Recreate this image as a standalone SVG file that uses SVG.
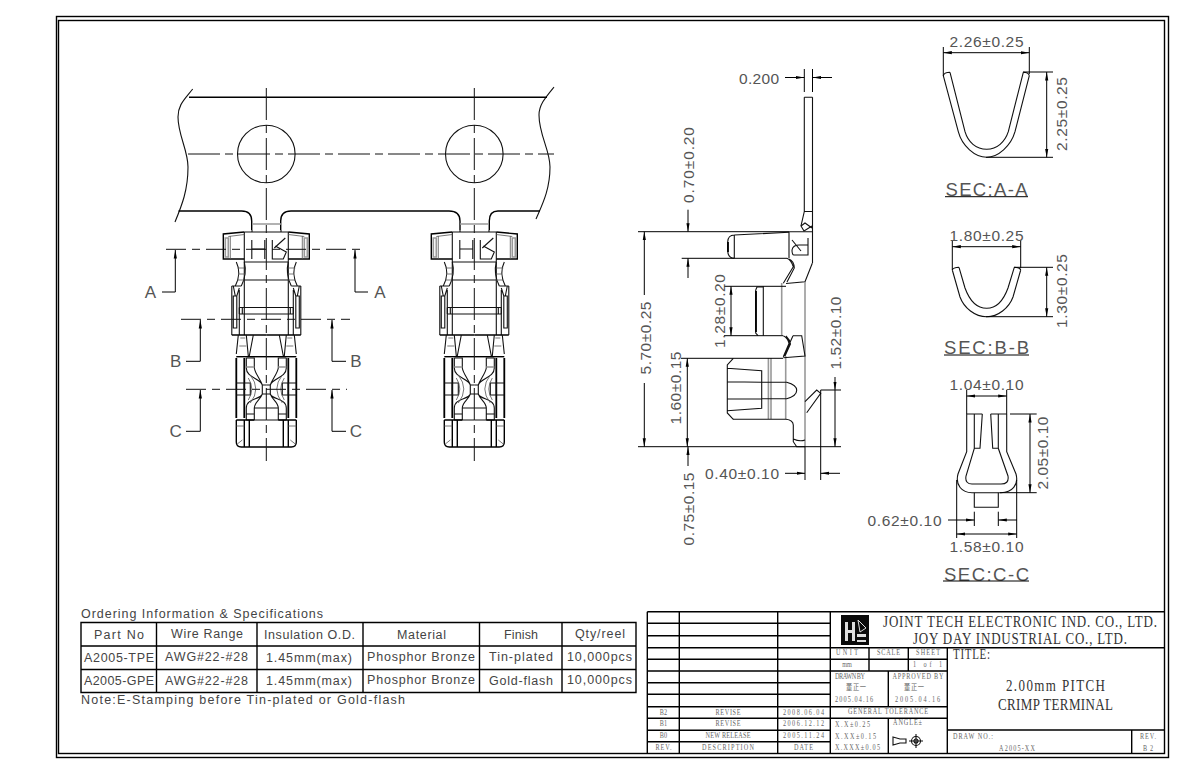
<svg xmlns="http://www.w3.org/2000/svg" xmlns:xlink="http://www.w3.org/1999/xlink" width="1191" height="767" viewBox="0 0 1191 767">
<style>
.l{fill:none;stroke:#111;stroke-width:1.1}
.b{fill:none;stroke:#000;stroke-width:1.4}
.k{fill:none;stroke:#000;stroke-width:1.8}
.g{fill:none;stroke:#999;stroke-width:1.6}
.m{fill:none;stroke:#555;stroke-width:.8}
.c{fill:none;stroke:#111;stroke-width:1;stroke-dasharray:32 5 8 5}
.s{fill:none;stroke:#111;stroke-width:1;stroke-dasharray:20 6 8 6}
.d{fill:none;stroke:#000;stroke-width:1}
text{font-family:"Liberation Sans",Arial,sans-serif;fill:#555;dominant-baseline:central}
.t{font-size:15.500px;text-anchor:middle}
.h{font-size:18.500px;text-anchor:middle}
.a{font-size:17px;text-anchor:middle}
.o{font-size:12.500px;text-anchor:middle;fill:#444}
.n{font-family:"Liberation Serif","Noto Sans CJK SC",serif;text-anchor:middle;font-size:6.200px;fill:#666;transform-box:fill-box;transform-origin:center;transform:scaleY(1.3)}
.f{font-family:"Liberation Serif","Noto Sans CJK SC",serif;text-anchor:middle;font-size:13px;fill:#333;transform-box:fill-box;transform-origin:center;transform:scaleY(1.3)}
</style>
<defs>
<marker id="ar" markerUnits="userSpaceOnUse" markerWidth="9" markerHeight="5" refX="8.5" refY="2.5" orient="auto-start-reverse"><path d="M0,.9 L8.5,2.5 L0,4.1Z" fill="#000"/></marker>
<g id="half">
<path class="l" d="M-22,232 V335 M-22,232 H0 M-22,262 H0 M-22,280 H0"/>
<path class="b" d="M-22,232 L-43,234 V259 H-22"/>
<path class="m" d="M-22,234.500 L-38,236.500 M-36,236 V259"/>
<path class="g" d="M-41,238 H-38 V257 H-41Z"/>
<path class="l" d="M-30,262 C-26,270 -27,278 -31,286 M-22,262 C-20,270 -21,278 -25,286"/>
<path class="m" d="M-29,268 H-22 M-28,274 H-21 M-29,280 H-22"/>
<path class="l" d="M-34.500,286 H-25 M-34.500,286 V335 M-27,290 V335 M-33,296 V328 H-29.500 V296Z M-33,286 L-31,296 L-29.500,296 L-27,288"/>
<path class="l" d="M-27,307.500 H0 M-27,314 H0 M-27,307.500 V314 M-24,307.500 V314"/>
<path class="b" d="M-34.500,335 H0"/>
<path class="l" d="M-28,335 L-30,354 M-20,335 L-18,356 M-13,335 L-17,356"/>
<path class="m" d="M-26,338 L-21,338 M-27,346 L-20,346"/>
<path class="b" d="M-30,356.700 H0"/>
<path class="k" d="M-30,358 V418 M-22,358 V418"/>
<path class="l" d="M-30,383 H-16 V395 H-30 M-22,383 V395"/>
<path class="l" d="M-20,358 H-12 V368 M-20,358 V368 C-20,378 -6,378 -4,385 V394 C-6,400 -20,398 -20,408 V420 M-12,368 C-11,374 -6,379 -4,385 M-4,394 C-6,400 -12,402 -12,408"/>
<path class="g" d="M-20,367 H-12"/>
<path class="m" d="M-16,375 Q-5,389 -16,403 M-18,378 Q-11,389 -18,400"/>
<path class="l" d="M-4,385 H0 M-4,394 H0"/>
<path class="l" d="M-12,408 H0 M-12,420 H0 M-12,408 V420 M-20,414 H-12 M-20,420 H-12"/>
<path class="b" d="M-30,420 V442 Q-30,447 -25,447 H0 M-22,420 V447 M-17,420 V447 M-30,420 H-12"/>
<path class="m" d="M-30,426 H-22 M-29,444 L-24,440"/>
</g>
<g id="terminal">
<use xlink:href="#half" href="#half"/>
<use xlink:href="#half" href="#half" transform="scale(-1,1)"/>
<path class="l" d="M-14.500,240 V259 M-1.500,240 V259 M-14.500,249 H-1.500"/>
<path class="l" d="M6,240 V259 H17 L20,252 L9,246 M8,248 L19,238"/>
</g>
</defs>

<g id="frame">
<rect class="b" x="56.500" y="16.500" width="1112" height="741"/>
<rect class="b" x="58.500" y="20.500" width="1106" height="733"/>
</g>

<g id="strip">
<path class="l" d="M192.700,89 C184,100 178,105 178,117 C178,135 188,150 188,167 C188,190 182,205 175,222 M554,87 C545,98 539,105 539,115 C539,135 550,150 550,167 C550,190 542,205 536,219"/>
<path class="b" d="M189,97.300 H547"/>
<path class="b" d="M178.500,211 H241.700 Q251.700,211 251.700,221 V230 M280.700,230 V221 Q280.700,211 291,211 H449 Q460,211 460,221 V230 M489.300,230 V221 Q489.300,211 498,211 H540"/>
<path class="g" d="M252,224 H281 M460,224 H489"/>
<path class="l" d="M252,230 V232 M281,230 V232 M460,230 V232 M489,230 V232"/>
<circle class="l" cx="266.300" cy="154" r="28.800"/>
<circle class="l" cx="474.300" cy="154" r="28.800"/>
<path class="c" d="M188,154 H554"/>
</g>

<g id="terminal-1" transform="translate(266.300,0)"><use xlink:href="#terminal" href="#terminal"/></g>
<g id="terminal-2" transform="translate(474.300,0)"><use xlink:href="#terminal" href="#terminal"/></g>

<g id="centerlines">
<path class="c" d="M266.300,88 V461 M474.300,88 V461"/>
<path class="s" d="M166,249.300 H364 M181,319.300 H350 M186,389.300 H347"/>
</g>

<g id="section-arrows">
<path class="d" marker-end="url(#ar)" d="M162,292 H175.300 V250"/>
<path class="d" marker-end="url(#ar)" d="M368,292 H355 V250"/>
<path class="d" marker-end="url(#ar)" d="M186,361.300 H200.300 V320"/>
<path class="d" marker-end="url(#ar)" d="M346,361.300 H332 V320"/>
<path class="d" marker-end="url(#ar)" d="M186,431.300 H200.300 V390"/>
<path class="d" marker-end="url(#ar)" d="M346,431.300 H332 V390"/>
<text class="a" x="150.500" y="292">A</text><text class="a" x="380" y="292">A</text>
<text class="a" x="175.700" y="361">B</text><text class="a" x="356" y="361">B</text>
<text class="a" x="175.700" y="431">C</text><text class="a" x="356" y="431">C</text>
</g>

<g id="side-view">
<path class="l" d="M804.300,97.300 H812.500 M804.300,97.300 V211.500 M812.500,97.300 V263.300 M804.300,211.500 H812.500 M804.300,211.500 L801,226 L804,231 L812,226"/>
<path class="l" d="M801,226 L805,223 L812,228"/>
<path class="l" d="M734.300,235 L789,232.300 M727.700,242 Q728,235 734.300,235 M727.700,242 V251 Q728,258 734.300,258.300 M734.300,235 V258.300"/>
<path class="k" d="M728,242 V252"/>
<path class="l" d="M789,231.700 H812 M789,232 V258"/>
<path class="l" d="M792,240 L801,251 M808,238 V255 H794 Q792,255 792,250 Q793,245 799,245 H808"/>
<path class="l" d="M787,258.300 Q791,260 793.300,266.700 L783.300,283.300 M789,259 Q794,261 794.300,268 L787,282 M786,283.500 L805,281.700 L812.300,263.300"/>
<path class="l" d="M755.700,290 L757,287 H763.300 M755.700,290 V333 L758,335.700 M763.300,286.300 V335.700"/>
<path class="k" d="M756,291 V332"/>
<path class="g" d="M781.700,283 V335 M805,282 V446.700 M768.400,358 V419 M771,358 V419 M785.700,356 V419"/>
<path class="l" d="M783.300,335.700 Q788,338 789,343.500 L783.300,356.700 M786,336 Q790,340 790.500,344 L785,356 M793,335.700 L801.700,335.700 L805,356 L783.300,357.700 M793,335.700 L783.500,357"/>
<path class="l" d="M733.300,358.300 L727.300,365 V413 L733.300,419.300 M727.300,368.300 L761.700,370.700 V408.300 L727.300,410.700 M727.300,381.700 L761.700,382.300 M727.300,399 L761.700,399 M762,382.300 H786.700 Q796.700,385 796.700,390.300 Q796.700,396 786.700,398.700 H762"/>
<path class="l" d="M805,401.700 L816.700,390 L820.700,393.300 L806.700,412.700"/>
<path class="l" d="M733,419.300 H786 M793.300,425 Q793,420 786,419.300 M793.300,425 V441.700 L796.700,446.700 H805 M793.300,439 Q800,442 805,440"/>
</g>

<g id="sec-a">
<path class="l" d="M943.300,75.700 L958.300,131.700 C962,146 975,157.300 986.700,157.300 C998,157.300 1011,146 1015,131.700 L1029.300,75.700 M950,72.300 L965,131.700 C968,142 976,149.300 986.700,149.300 C997,149.300 1005,142 1008.300,131.700 L1023.300,72.300 M943.300,75.700 Q944,72.500 950,72.300 M1029.300,75.700 Q1028.500,72.500 1023.300,72.300"/>
</g>
<g id="sec-b">
<path class="l" d="M952.300,270 L960,297 C964,308 975,316.700 986.700,316.700 C998,316.700 1009,308 1013,297 L1020.700,270 M959,267.300 L965,288 C969,299 976,308.300 986.700,308.300 C997,308.300 1004,299 1008,288 L1014.300,267.300 M952.300,270 Q953,267.500 959,267.300 M1020.700,270 Q1020,267.500 1014.300,267.300"/>
</g>
<g id="sec-c">
<path class="l" d="M966.700,414 H982.300 M990.700,414 H1006.700 M966.700,414 V451.700 L958,474 C955,485 962,492.700 972,492.700 H1001 C1012,492.700 1019,485 1016,474 L1006.700,451.700 V414 M974.300,414 V448.300 L966,476 C965,482 968,484 972,484 H1001 C1006,484 1009,482 1008,476 L998.300,448.300 V414 M982.300,414 L980,448.300 H974.300 M990.700,414 L992.700,448.300 H998.300"/>
<path class="l" d="M974.300,492.700 V507.300 H998.300 V492.700"/>
</g>

<g id="dimensions">
<path class="d" d="M804.300,69 V92 M812.500,69 V92"/>
<path class="d" marker-end="url(#ar)" d="M785,77.500 H804.300"/>
<path class="d" marker-end="url(#ar)" d="M832,77.500 H812.500"/>
<text class="t" x="759" y="78" textLength="40">0.200</text>

<path class="d" d="M638,231.700 H789 M681.700,258.300 H787 M724,286.300 H786 M724,335.700 H783 M681,358.300 H783 M638,446.700 H841 M805,446.700 V480 M820.700,390 V480 M820.700,390 H841"/>
<path class="d" marker-end="url(#ar)" d="M688,209.700 V231.700"/>
<path class="d" marker-end="url(#ar)" d="M688,278 V258.300"/>
<text class="t" transform="translate(688,165) rotate(-90)" textLength="76">0.70±0.20</text>
<path class="d" marker-end="url(#ar)" d="M644.300,295 V231.700"/>
<path class="d" marker-end="url(#ar)" d="M644.300,383 V446.700"/>
<text class="t" transform="translate(645,338) rotate(-90)" textLength="73">5.70±0.25</text>
<path class="d" marker-start="url(#ar)" marker-end="url(#ar)" d="M731,286.300 V335.700"/>
<text class="t" transform="translate(719,311) rotate(-90)" textLength="74">1.28±0.20</text>
<path class="d" marker-start="url(#ar)" marker-end="url(#ar)" d="M687.300,358.300 V446.700"/>
<text class="t" transform="translate(675,388) rotate(-90)" textLength="73">1.60±0.15</text>
<path class="d" marker-end="url(#ar)" d="M688,466 V446.700"/>
<text class="t" transform="translate(688,509) rotate(-90)" textLength="73">0.75±0.15</text>
<path class="d" marker-end="url(#ar)" d="M835,377 V390"/>
<path class="d" marker-end="url(#ar)" d="M835,390 V446.700"/>
<text class="t" transform="translate(835,333) rotate(-90)" textLength="73">1.52±0.10</text>
<path class="d" marker-end="url(#ar)" d="M785,473.300 H805"/>
<path class="d" marker-end="url(#ar)" d="M840,473.300 H820.700"/>
<text class="t" x="742" y="473.500" textLength="74">0.40±0.10</text>

<path class="d" d="M943.300,47 V76 M1029.300,47 V74 M1023,72 H1053 M986,157.300 H1053"/>
<path class="d" marker-start="url(#ar)" marker-end="url(#ar)" d="M943.300,52.700 H1029.300"/>
<path class="d" marker-start="url(#ar)" marker-end="url(#ar)" d="M1046.700,72 V157.300"/>
<text class="t" x="986.500" y="41.700" textLength="74">2.26±0.25</text>
<text class="t" transform="translate(1061,114) rotate(-90)" textLength="74">2.25±0.25</text>
<text class="h" x="986.500" y="189" textLength="82">SEC:A-A</text>
<path class="d" d="M945,196.700 H1028"/>

<path class="d" d="M952.300,240 V270 M1020.700,240 V268 M1014,267.300 H1053 M986,316.700 H1053"/>
<path class="d" marker-start="url(#ar)" marker-end="url(#ar)" d="M952.300,246.700 H1020.700"/>
<path class="d" marker-start="url(#ar)" marker-end="url(#ar)" d="M1046.700,267.300 V316.700"/>
<text class="t" x="986.500" y="235" textLength="74">1.80±0.25</text>
<text class="t" transform="translate(1061,291) rotate(-90)" textLength="74">1.30±0.25</text>
<text class="h" x="986.500" y="347" textLength="85">SEC:B-B</text>
<path class="d" d="M944,355 H1029"/>

<path class="d" d="M966.700,390 V414 M1006.700,390 V414 M1010,414 H1036.700 M1000,492.700 H1036.700 M974.300,511.700 V526 M998.300,511.700 V526 M956.700,480 V538 M1016.700,480 V538"/>
<path class="d" marker-start="url(#ar)" marker-end="url(#ar)" d="M966.700,396 H1006.700"/>
<path class="d" marker-start="url(#ar)" marker-end="url(#ar)" d="M1030,414 V492.700"/>
<path class="d" marker-end="url(#ar)" d="M948,520 H974.300"/>
<path class="d" marker-end="url(#ar)" d="M1017,520 H998.300"/>
<path class="d" marker-start="url(#ar)" marker-end="url(#ar)" d="M956.700,534 H1016.700"/>
<text class="t" x="986.500" y="384" textLength="74">1.04±0.10</text>
<text class="t" transform="translate(1042,453) rotate(-90)" textLength="73">2.05±0.10</text>
<text class="t" x="904.500" y="520" textLength="74">0.62±0.10</text>
<text class="t" x="986.500" y="546.700" textLength="74">1.58±0.10</text>
<text class="h" x="986.500" y="574" textLength="85">SEC:C-C</text>
<path class="d" d="M943,581 H1029"/>
</g>

<g id="ordering-table">
<path class="b" d="M81,622.500 H636 V692.500 H81Z M81,646 H636 M81,669.500 H636 M156.500,622.500 V692.500 M257,622.500 V692.500 M363,622.500 V692.500 M479.500,622.500 V692.500 M562,622.500 V692.500"/>
<text class="o" x="202" y="613.500" textLength="242">Ordering Information &amp; Specifications</text>
<text class="o" x="119" y="634.500" textLength="50">Part No</text>
<text class="o" x="207" y="633.500" textLength="72">Wire Range</text>
<text class="o" x="309.500" y="634.500" textLength="91">Insulation O.D.</text>
<text class="o" x="421.500" y="634.500" textLength="49">Material</text>
<text class="o" x="521" y="634.500" textLength="34">Finish</text>
<text class="o" x="600" y="633.500" textLength="50">Qty/reel</text>
<text class="o" x="119" y="657.500" textLength="70">A2005-TPE</text>
<text class="o" x="206.500" y="657" textLength="83">AWG#22-#28</text>
<text class="o" x="309" y="657.500" textLength="86">1.45mm(max)</text>
<text class="o" x="421" y="657" textLength="108">Phosphor Bronze</text>
<text class="o" x="521" y="657" textLength="64">Tin-plated</text>
<text class="o" x="599.500" y="657" textLength="65">10,000pcs</text>
<text class="o" x="119" y="680.500" textLength="70">A2005-GPE</text>
<text class="o" x="206.500" y="680.500" textLength="83">AWG#22-#28</text>
<text class="o" x="309" y="680.500" textLength="86">1.45mm(max)</text>
<text class="o" x="421" y="680" textLength="108">Phosphor Bronze</text>
<text class="o" x="521" y="681" textLength="64">Gold-flash</text>
<text class="o" x="599.500" y="680" textLength="65">10,000pcs</text>
<text class="o" x="243" y="700" textLength="324">Note:E-Stamping before Tin-plated or Gold-flash</text>
</g>

<g id="title-block">
<path class="b" d="M647.300,611.700 H1164.300 M647.300,611.700 V753.300 M679.300,611.700 V753.300 M777.700,611.700 V753.300 M830.300,611.700 V753.300 M647.300,623.300 H830.300 M647.300,635.700 H830.300 M647.300,647.700 H1164.300 M647.300,659.300 H947.300 M647.300,671 H947.300 M647.300,682.700 H830.300 M647.300,694.300 H830.300 M647.300,706.700 H947.300 M647.300,718.300 H947.300 M647.300,730.300 H830.300 M647.300,741.700 H830.300 M947.300,647.700 V753.300 M947.300,730 H1164.300 M1131.700,730 V753.300 M869,647.700 V671 M908.300,647.700 V671 M888.300,671 V706.700 M888.300,718.300 V753.300"/>
<g id="logo"><rect x="841" y="615" width="28" height="30" fill="#0a0a0a"/>
<path d="M845,622 H848 V641 H845Z M852,622 H855 V641 H852Z M848,630 H852 V633 H848Z M857,634 H866 V637 H857Z M857,640 H866 V642 H857Z" fill="#ddd"/>
<path d="M858,620 L866,628 L860,632 Z" fill="none" stroke="#ddd" stroke-width="1"/></g>
<text class="f" x="1020" y="621" textLength="274">JOINT TECH ELECTRONIC IND. CO., LTD.</text>
<text class="f" x="1020" y="638" textLength="214">JOY DAY INDUSTRIAL CO., LTD.</text>
<text class="f" x="971.500" y="655" style="font-size:11px" textLength="37">TITLE:</text>
<text class="f" x="1055.500" y="685" textLength="99">2.00mm PITCH</text>
<text class="f" x="1055.500" y="704.500" textLength="115">CRIMP TERMINAL</text>
<text class="n" x="847" y="652.700" textLength="22">UNIT</text>
<text class="n" x="888.500" y="652.700" textLength="23">SCALE</text>
<text class="n" x="928" y="652.700" textLength="24">SHEET</text>
<text class="n" x="847" y="665">mm</text>
<text class="n" x="927.500" y="665" textLength="29">1 of 1</text>
<text class="n" x="850" y="677" textLength="30">DRAWN BY</text>
<text class="n" x="918" y="677" textLength="51">APPROVED BY</text>
<text class="n" x="856" y="688" textLength="20">董正一</text>
<text class="n" x="914" y="688" textLength="20">董正一</text>
<text class="n" x="854" y="700" textLength="38">2005.04.16</text>
<text class="n" x="917.500" y="700" textLength="45">2005.04.16</text>
<text class="n" x="888" y="712" textLength="80">GENERAL TOLERANCE</text>
<text class="n" x="852.500" y="725" textLength="35">X.X±0.25</text>
<text class="n" x="855.500" y="737" textLength="41">X.XX±0.15</text>
<text class="n" x="857.500" y="748" textLength="45">X.XXX±0.05</text>
<text class="n" x="907.500" y="723" textLength="29">ANGLE±</text>
<text class="n" x="973" y="736.700" textLength="40">DRAW NO.:</text>
<text class="n" x="1017" y="749" textLength="36">A2005-XX</text>
<text class="n" x="1148" y="736.700" textLength="16">REV.</text>
<text class="n" x="1148" y="749" textLength="10">B2</text>
<text class="n" x="663.500" y="712.700">B2</text>
<text class="n" x="728" y="712.700" textLength="25">REVISE</text>
<text class="n" x="803.500" y="712.700" textLength="41">2008.06.04</text>
<text class="n" x="663.500" y="724">B1</text>
<text class="n" x="728" y="724" textLength="25">REVISE</text>
<text class="n" x="803.500" y="724" textLength="41">2006.12.12</text>
<text class="n" x="663.500" y="735.700">B0</text>
<text class="n" x="728" y="735.700" textLength="45">NEW RELEASE</text>
<text class="n" x="803.500" y="735.700" textLength="41">2005.11.24</text>
<text class="n" x="663.500" y="747.700" textLength="16">REV.</text>
<text class="n" x="728" y="747.700" textLength="52">DESCRIPTION</text>
<text class="n" x="803.500" y="747.700" textLength="19">DATE</text>
<path class="l" d="M893,737 L900,739 H906 V743 H900 L893,745Z"/>
<circle class="l" cx="916" cy="741" r="4.500"/><circle class="l" cx="916" cy="741" r="2"/>
<path class="l" d="M909,741 H923 M916,734 V748"/>
</g>
</svg>
